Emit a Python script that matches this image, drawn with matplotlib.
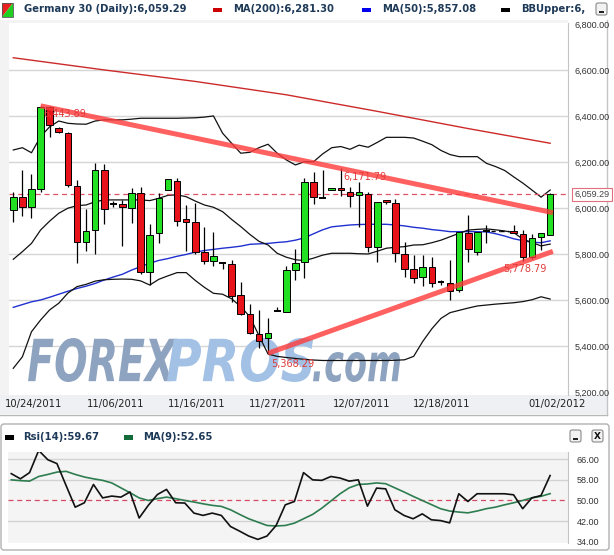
import matplotlib
matplotlib.use("Agg")
import matplotlib.pyplot as plt
import numpy as np
from matplotlib.patches import Rectangle, PathPatch, Polygon, FancyBboxPatch
from matplotlib.textpath import TextPath
from matplotlib.font_manager import FontProperties, fontManager
from matplotlib.transforms import Affine2D, IdentityTransform

W, H = 614, 555

# Germany 30 daily candles, 10/24/2011 .. 01/02/2012
opens = [5991, 6046, 6006, 6081, 6440, 6349, 6325, 6097, 5851, 5904,
         6165, 6017, 6017, 5999, 6064, 5720, 5890, 6078, 6117, 5952,
         5939, 5807, 5770, 5759, 5755, 5622, 5539, 5452, 5433, 5550,
         5547, 5730, 5764, 6112, 6045, 6077, 6088, 6071, 6057, 6060,
         5832, 6035, 6020, 5799, 5733, 5699, 5742, 5677, 5673, 5645,
         5890, 5810, 5901, 5901, 5901, 5901, 5886, 5786, 5875, 5883]
highs = [6071, 6165, 6148, 6443.89, 6444, 6350, 6329, 6122, 5994, 6197,
         6191, 6030, 6035, 6088, 6090, 5930, 6067, 6126, 6129, 6013,
         6023, 5919, 5897, 5759, 5774, 5677, 5583, 5556, 5520, 5571,
         5748, 5820, 6129, 6158, 6165, 6088, 6171.79, 6090, 6114, 6071,
         6025, 6036, 6039, 5853, 5794, 5796, 5788, 5687, 5774, 5897,
         5970, 5897, 5926, 5901, 5901, 5926, 5904, 5887, 5890, 6064]
lows = [5940, 5965, 5955, 6071, 6310, 6328, 6093, 5762, 5812, 5799,
        5930, 6006, 5835, 5933, 5712, 5665, 5849, 6077, 5922, 5813,
        5799, 5757, 5749, 5735, 5593, 5535, 5451, 5390, 5368.29, 5550,
        5547, 5687, 5697, 6016, 6045, 6077, 6052, 6003, 5916, 5810,
        5764, 6017, 5764, 5699, 5673, 5661, 5655, 5665, 5600, 5636,
        5767, 5796, 5846, 5901, 5901, 5890, 5771, 5778.79, 5817, 5883]
closes = [6046, 6006, 6081, 6438, 6361, 6329, 6100, 5851, 5901, 6165,
          5994, 6017, 6003, 6064, 5720, 5883, 6045, 6125, 5945, 5938,
          5810, 5768, 5791, 5759, 5619, 5539, 5455, 5423, 5457, 5550,
          5730, 5760, 6114, 6047, 6045, 6088, 6077, 6052, 6068, 5832,
          6025, 6025, 5803, 5735, 5694, 5742, 5673, 5677, 5640, 5897,
          5820, 5897, 5901, 5901, 5901, 5890, 5786, 5871, 5890, 6059.29]

ma200_idx = [0, 10, 20, 30, 40, 50, 59]
ma200_val = [6653, 6600, 6550, 6492, 6420, 6345, 6281.30]

ma50 = [5568, 5580, 5592, 5600, 5612, 5625, 5638, 5650, 5660, 5672,
        5687, 5700, 5712, 5730, 5745, 5760, 5772, 5780, 5790, 5798,
        5808, 5815, 5820, 5825, 5829, 5834, 5842, 5844, 5846, 5850,
        5853, 5860, 5870, 5888, 5905, 5918, 5922, 5926, 5928, 5929,
        5929, 5929, 5926, 5922, 5916, 5912, 5906, 5902, 5897, 5897,
        5897, 5897, 5896, 5888, 5878, 5866, 5858, 5851, 5849, 5857.08]
bb_upper = [6252, 6262, 6240, 6310, 6353, 6378, 6368, 6365, 6364, 6378,
            6383, 6383, 6383, 6386, 6390, 6390, 6390, 6390, 6390, 6391,
            6392, 6395, 6400, 6325, 6281, 6238, 6242, 6262, 6277, 6238,
            6209, 6187, 6201, 6201, 6235, 6262, 6267, 6255, 6273, 6264,
            6285, 6307, 6307, 6307, 6304, 6290, 6275, 6250, 6232, 6223,
            6223, 6223, 6194, 6180, 6163, 6135, 6108, 6078, 6047, 6078]
bb_mid = [5777, 5810, 5846, 5904, 5943, 5977, 5999, 6010, 6013, 6027,
          6035, 6035, 6035, 6035, 6035, 6032, 6042, 6055, 6057, 6049,
          6030, 6013, 6003, 5984, 5950, 5919, 5885, 5855, 5839, 5803,
          5786, 5775, 5771, 5782, 5795, 5803, 5803, 5803, 5801, 5800,
          5812, 5825, 5829, 5832, 5839, 5840, 5849, 5860, 5875, 5890,
          5904, 5907, 5909, 5905, 5900, 5893, 5864, 5850, 5835, 5843]
bb_lower = [5303, 5353, 5462, 5513, 5557, 5586, 5630, 5658, 5668, 5682,
            5688, 5690, 5691, 5690, 5683, 5665, 5690, 5705, 5719, 5719,
            5685, 5655, 5629, 5625, 5605, 5571, 5527, 5445, 5365, 5355,
            5350, 5346, 5342, 5339, 5337, 5337, 5337, 5337, 5337, 5337,
            5337, 5337, 5338, 5340, 5355, 5420, 5475, 5520, 5545, 5555,
            5565, 5574, 5578, 5582, 5585, 5588, 5593, 5601, 5614, 5604]

rsi = [60.4, 58.4, 60.8, 69.4, 65.8, 64.3, 55.8, 47.4, 49.1, 56.2,
       51.0, 51.7, 51.3, 53.3, 43.2, 48.1, 52.3, 54.3, 49.1, 49.0,
       45.1, 44.2, 45.1, 44.2, 39.9, 38.1, 36.2, 34.9, 36.2, 40.3,
       48.3, 49.6, 60.8, 58.0, 57.8, 59.3, 58.7, 57.5, 58.0, 47.8,
       54.8, 54.5, 46.4, 44.2, 42.9, 44.8, 42.5, 42.2, 41.3, 52.6,
       49.6, 52.6, 52.6, 52.6, 52.6, 52.2, 46.8, 51.0, 51.9, 59.67]
rsi_ma = [58.0, 57.7, 57.5, 59.3, 60.1, 61.0, 61.3, 60.1, 59.1, 58.4,
          57.8, 56.8, 54.9, 53.0, 51.0, 50.0, 50.7, 51.3, 50.7, 50.0,
          49.4, 48.7, 48.1, 47.7, 46.4, 44.6, 42.9, 41.6, 40.3, 40.1,
          40.3, 41.2, 42.9, 44.6, 47.0, 49.8, 52.6, 54.9, 56.2, 56.4,
          56.8, 56.5, 54.9, 53.3, 51.6, 50.0, 48.4, 46.8, 45.9, 45.5,
          45.2, 45.9, 46.8, 47.4, 48.3, 49.1, 50.0, 51.0, 51.6, 52.65]

# trendline anchors (bar index, price)
res_idx = [3, 36]
res_val = [6443.89, 6171.79]
sup_idx = [28, 57]
sup_val = [5368.29, 5778.79]
trend_end = 59.3

date_pos = [2.2, 11.2, 20.2, 29.1, 38.3, 47.1, 59.8]
date_labels = ["10/24/2011", "11/06/2011", "11/16/2011", "11/27/2011",
               "12/07/2011", "12/18/2011", "01/02/2012"]
price_ticks = [5200, 5400, 5600, 5800, 6000, 6200, 6400, 6600, 6800]
rsi_ticks = [34, 42, 50, 58, 66]
last_close = 6059.29

names = {f.name for f in fontManager.ttflist}
if "Liberation Sans Narrow" in names:
    AXFONT, AXSIZE = "Liberation Sans Narrow", 7
else:
    AXFONT, AXSIZE = "Liberation Sans", 6.5

GREEN = "#22e022"
RED = "#e8121a"
HEAD = "#1e3a58"


def fx(x):
    return x / W


def fy(y):
    return 1 - y / H


fig = plt.figure(figsize=(W / 100, H / 100), dpi=100, facecolor="white")

# background layer in pixel coords
bg = fig.add_axes([0, 0, 1, 1], zorder=-1)
bg.set_xlim(0, W)
bg.set_ylim(H, 0)
bg.axis("off")
bg.add_patch(Rectangle((0, 20), 568, 376, fc="#f3f3f3", ec="none"))
bg.add_patch(Rectangle((0, 395), 607, 19, fc="#eef0f4", ec="none"))
bg.plot([607, 607], [20, 415], color="#c4c4c4", lw=1)
bg.plot([0, 607], [415, 415], color="#b8b8b8", lw=1)
bg.add_patch(FancyBboxPatch((1, 424), 608, 126, boxstyle="round,pad=0,rounding_size=3",
                            fc="white", ec="#b0b0b0", lw=1))
bg.add_patch(Rectangle((8, 452), 560, 91, fc="#f4f4f4", ec="none"))

# header icon
bg.add_patch(Polygon([(2, 3), (13, 3), (2, 17)], closed=True, fc="#e82020", ec="none"))
bg.add_patch(Polygon([(13, 3), (13, 17), (2, 17)], closed=True, fc="#20d020", ec="none"))
bg.add_patch(Rectangle((2, 3), 11, 14, fc="none", ec="#555555", lw=0.6))

# header legend
fig.text(fx(24), fy(9.5), "Germany 30 (Daily):6,059.29", fontsize=7.2, fontweight="bold",
         color=HEAD, va="center")
for sx, col, label in [(213, "#cc0000", "MA(200):6,281.30"),
                       (362, "#0000ee", "MA(50):5,857.08"),
                       (501, "#000000", "BBUpper:6,")]:
    bg.add_patch(Rectangle((sx, 7.5), 9, 4.5, fc=col, ec="none"))
    fig.text(fx(sx + 20), fy(9.5), label, fontsize=7.2, fontweight="bold", color=HEAD, va="center")


def button(x, y, kind):
    bg.add_patch(FancyBboxPatch((x, y), 11, 12, boxstyle="round,pad=0,rounding_size=2",
                                fc="#f2f2f2", ec="#8a8a8a", lw=0.8, zorder=5))
    if kind == "min":
        bg.add_patch(Rectangle((x + 3, y + 8), 5, 1.6, fc="#222222", ec="none", zorder=6))
    else:
        bg.text(x + 5.5, y + 6.5, "X", ha="center", va="center", fontsize=6.5,
                fontweight="bold", color="#111111", zorder=6)


bg.add_patch(Rectangle((594, 0), 20, 19, fc="white", ec="none", zorder=4))
button(596, 3, "min")
button(570, 430, "min")
button(592, 430, "x")

# RSI header
bg.add_patch(Rectangle((5, 435), 9, 4.5, fc="#000000", ec="none"))
fig.text(fx(23), fy(437.5), "Rsi(14):59.67", fontsize=7.2, fontweight="bold", color=HEAD, va="center")
bg.add_patch(Rectangle((124, 435), 9, 4.5, fc="#146b3a", ec="none"))
fig.text(fx(143), fy(437.5), "MA(9):52.65", fontsize=7.2, fontweight="bold", color=HEAD, va="center")

# ---------------- main price panel ----------------
ax = fig.add_axes([fx(9), fy(395), (568 - 9) / W, (395 - 23) / H], zorder=1)
ax.set_facecolor("white")
ax.set_xlim(-0.47, 60.96)
ax.set_ylim(5187, 6804)

for v in price_ticks[1:-1]:
    ax.axhline(v, color="#d6d6d6", lw=1, zorder=0.5)

# watermark
fp = FontProperties(family="DejaVu Sans", weight="bold", style="italic")
for word, col, x0, x1, y0, y1 in [("FOREX", "#8ea3bf", 28, 177, 338, 382),
                                  ("PROS", "#a3c1e4", 167, 313, 338, 382),
                                  (".com", "#8ea3bf", 313, 400, 352, 382)]:
    tp = TextPath((0, 0), word, size=100, prop=fp)
    ext = tp.get_extents()
    tr = (Affine2D().translate(-ext.x0, -ext.y0)
          .scale((x1 - x0) / ext.width, (y1 - y0) / ext.height)
          .translate(x0, H - y1))
    ax.add_artist(PathPatch(tr.transform_path(tp), transform=IdentityTransform(),
                            fc=col, ec="none", zorder=0.8))

xs = np.arange(len(opens))
ax.plot(ma200_idx, ma200_val, color="#cc2a2a", lw=1, zorder=2)
ax.plot(xs, ma50, color="#2030d0", lw=1, zorder=2)
for band in (bb_upper, bb_mid, bb_lower):
    ax.plot(xs, band, color="#111111", lw=0.9, zorder=2)

ax.axhline(last_close, color="#e05068", lw=0.9, ls=(0, (4, 3)), zorder=2.5)

for i in xs:
    o, h, l, c = opens[i], highs[i], lows[i], closes[i]
    if h == l:
        ax.plot([i - 0.5, i + 0.5], [o, o], color="black", lw=1, ls=(0, (3, 2.5)), zorder=3)
        continue
    ax.vlines(i, l, h, color="black", lw=0.9, zorder=3)
    if o == c:
        ax.hlines(o, i - 0.38, i + 0.38, color="black", lw=1.4, zorder=4)
    else:
        ax.add_patch(Rectangle((i - 0.36, min(o, c)), 0.72, abs(c - o),
                               fc=GREEN if c > o else RED, ec="black", lw=0.7, zorder=4))

# trendlines
for idx, val in [(res_idx, res_val), (sup_idx, sup_val)]:
    slope = (val[1] - val[0]) / (idx[1] - idx[0])
    ax.plot([idx[0], trend_end], [val[0], val[0] + slope * (trend_end - idx[0])],
            color="#ff3a3a", alpha=0.8, lw=3.6, solid_capstyle="butt", zorder=5)

for xi, val, off in [(res_idx[0], res_val[0], (2, -6)), (res_idx[1], res_val[1], (2, -6)),
                     (sup_idx[0], sup_val[0], (2, -8)), (sup_idx[1], sup_val[1], (-21, -7))]:
    ax.annotate(f"{val:,.2f}", (xi, val), xytext=off, textcoords="offset points",
                fontsize=7, color="#e03a3a", ha="left", va="center", zorder=6)

ax.yaxis.tick_right()
ax.set_yticks(price_ticks, [f"{v:,.2f}" for v in price_ticks])
ax.set_xticks(date_pos, date_labels)
ax.tick_params(axis="y", length=0, pad=5, labelsize=AXSIZE, labelcolor="#333333")
ax.tick_params(axis="x", length=0, pad=3, labelsize=7.2, labelcolor="#222222")
for lab in ax.get_yticklabels():
    lab.set_family(AXFONT)
for s in ["top", "left", "bottom"]:
    ax.spines[s].set_visible(False)
ax.spines["right"].set_color("#c4c4c4")

ax.annotate(f"{last_close:,.2f}", (1, last_close), xycoords=("axes fraction", "data"),
            xytext=(4.5, 0), textcoords="offset points", fontsize=AXSIZE, family=AXFONT,
            color="#444444", va="center", ha="left", zorder=10, annotation_clip=False,
            bbox=dict(boxstyle="square,pad=0.25", fc="white", ec="#e07080", lw=0.8))

# ---------------- RSI panel ----------------
ax2 = fig.add_axes([fx(8), fy(543), (568 - 8) / W, (543 - 452) / H], zorder=1)
ax2.set_facecolor("none")
ax2.set_xlim(-0.36, 60.96)
ax2.set_ylim(33.5, 68.8)
for v in (42, 58, 66):
    ax2.axhline(v, color="#d2d2d2", lw=1, zorder=0.5)
ax2.axhline(50, color="#d84a64", lw=0.9, ls=(0, (4, 3)), zorder=1)
ax2.plot(xs, rsi_ma, color="#2e7d50", lw=1.2, zorder=2)
ax2.plot(xs, rsi, color="#111111", lw=1.2, zorder=3)
ax2.yaxis.tick_right()
ax2.set_yticks(rsi_ticks, [f"{v:.2f}" for v in rsi_ticks])
ax2.set_xticks([])
ax2.tick_params(axis="y", length=0, pad=6, labelsize=AXSIZE, labelcolor="#333333")
for lab in ax2.get_yticklabels():
    lab.set_family(AXFONT)
for s in ["top", "left", "bottom"]:
    ax2.spines[s].set_visible(False)
ax2.spines["right"].set_color("#c4c4c4")

fig.savefig("out.png", dpi=100)
